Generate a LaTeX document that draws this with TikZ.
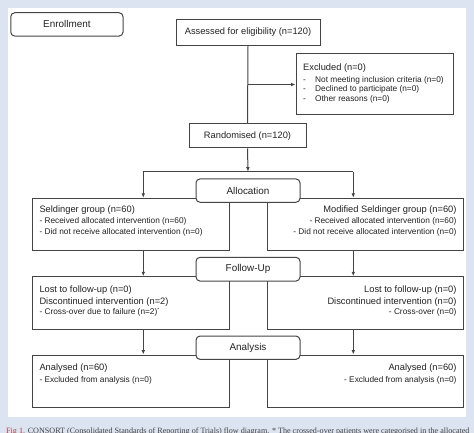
\documentclass[tikz,border=0pt]{standalone}
\usepackage{fontspec}
\setmainfont{Liberation Sans}
\newfontfamily\capfont{Liberation Serif}
\usetikzlibrary{arrows.meta}
\definecolor{bgblue}{HTML}{DCE3F1}
\definecolor{linegray}{HTML}{444444}
\definecolor{txtgray}{HTML}{222222}
\definecolor{figred}{HTML}{A84444}
\definecolor{capgray}{HTML}{444444}
\tikzset{
  box/.style={draw=linegray, line width=1pt, fill=white, inner sep=0pt},
  rbox/.style={box, rounded corners=4pt},
  hd/.style={font=\fontsize{9.3}{11}\selectfont, text=txtgray, inner sep=0pt},
  it/.style={font=\fontsize{8.3}{10}\selectfont, text=txtgray, inner sep=0pt},
  lab/.style={font=\fontsize{9.9}{12}\selectfont, text=txtgray},
  conn/.style={draw=linegray, line width=1pt},
  arr/.style={conn, -{Latex[length=4.5pt,width=3.6pt]}},
}
\begin{document}
\begin{tikzpicture}[x=1pt,y=-1pt]
\path[clip] (0,0) rectangle (474,433);
\fill[bgblue] (0,0) rectangle (474,433);
\fill[white] (8.3,8.3) rectangle (465.7,416.7);

% boxes
\node[rbox, minimum width=112.3pt, minimum height=23.3pt, lab] (enroll) at (66.9,24.4) {Enrollment};
\node[box, minimum width=144pt, minimum height=26.7pt, hd] (assess) at (248,32.4) {Assessed for eligibility (n=120)};
\node[box, minimum width=157pt, minimum height=61pt] (excl) at (374.5,84.5) {};
\node[box, minimum width=117pt, minimum height=24pt, hd] (rand) at (247.5,136) {Randomised (n=120)};

\node[box, minimum width=197pt, minimum height=51.7pt] (lg1) at (130.8,224.2) {};
\node[box, minimum width=196pt, minimum height=51.7pt] (rg1) at (365.3,224.2) {};
\node[box, minimum width=197pt, minimum height=52.3pt] (lg2) at (130.8,302.9) {};
\node[box, minimum width=196pt, minimum height=52.3pt] (rg2) at (365.3,302.9) {};
\node[box, minimum width=197pt, minimum height=52.7pt] (lg3) at (130.8,381.4) {};
\node[box, minimum width=196pt, minimum height=52.7pt] (rg3) at (365.3,381.4) {};

\node[rbox, minimum width=104pt, minimum height=23.3pt, lab] (alloc) at (248,190.6) {Allocation};
\node[rbox, minimum width=104pt, minimum height=23.7pt, lab] (follow) at (248,269.2) {Follow-Up};
\node[rbox, minimum width=104pt, minimum height=23.3pt, lab] (anal) at (248,347.7) {Analysis};

% excluded text
\node[hd, anchor=west] (ex0) at (303,68) {Excluded (n=0)};
\node[it, anchor=west] (ex1) at (303,80) {\makebox[12pt][l]{-}Not meeting inclusion criteria (n=0)};
\node[it, anchor=west] (ex2) at (303,89.7) {\makebox[12pt][l]{-}Declined to participate (n=0)};
\node[it, anchor=west] (ex3) at (303,99.3) {\makebox[12pt][l]{-}Other reasons (n=0)};

% allocation texts
\node[hd, anchor=west] (l1a) at (39.3,210) {Seldinger group (n=60)};
\node[it, anchor=west] (l1b) at (39.3,221) {- Received allocated intervention (n=60)};
\node[it, anchor=west] (l1c) at (39.3,232.7) {- Did not receive allocated intervention (n=0)};
\node[hd, anchor=east] (r1a) at (456.7,210) {Modified Seldinger group (n=60)};
\node[it, anchor=east] (r1b) at (456.7,221) {- Received allocated intervention (n=60)};
\node[it, anchor=east] (r1c) at (456.7,232.7) {- Did not receive allocated intervention (n=0)};

% follow-up texts
\node[hd, anchor=west] (l2a) at (39.3,290) {Lost to follow-up (n=0)};
\node[hd, anchor=west] (l2b) at (39.3,301.7) {Discontinued intervention (n=2)};
\node[it, anchor=west] (l2c) at (39.3,312.3) {- Cross-over due to failure (n=2)\raisebox{3pt}{\fontsize{5}{5}\selectfont *}};
\node[hd, anchor=east] (r2a) at (456.7,290) {Lost to follow-up (n=0)};
\node[hd, anchor=east] (r2b) at (456.7,301.7) {Discontinued intervention (n=0)};
\node[it, anchor=east] (r2c) at (456.7,312.3) {- Cross-over (n=0)};

% analysis texts
\node[hd, anchor=west] (l3a) at (39.3,368.3) {Analysed (n=60)};
\node[it, anchor=west] (l3b) at (39.3,380) {- Excluded from analysis (n=0)};
\node[hd, anchor=east] (r3a) at (456.7,368.3) {Analysed (n=60)};
\node[it, anchor=east] (r3b) at (456.7,380) {- Excluded from analysis (n=0)};

% connectors
\coordinate (exjoin) at (assess.south |- excl.west);
\draw[conn] (assess.south) -- (rand.north);
\draw[arr] (exjoin) -- (excl.west);
\coordinate (split) at (248,171.7);
\coordinate (splitL) at (143.3,171.7);
\coordinate (splitR) at (353.3,171.7);
\draw[arr] (rand.south) -- (split);
\draw[conn] (splitL) -- (splitR);
\draw[arr] (splitL) -- (splitL |- lg1.north);
\draw[arr] (splitR) -- (splitR |- rg1.north);
\draw[arr] (lg1.south -| splitL) -- (lg2.north -| splitL);
\draw[arr] (rg1.south -| splitR) -- (rg2.north -| splitR);
\draw[arr] (lg2.south -| splitL) -- (lg3.north -| splitL);
\draw[arr] (rg2.south -| splitR) -- (rg3.north -| splitR);

% caption (cut off at bottom, as in the reference)
\node[anchor=base west, inner sep=0pt, font=\capfont\fontsize{8.1}{9}\selectfont, text=capgray] (cap) at (6,433.3)
  {\textcolor{figred}{Fig 1.} CONSORT (Consolidated Standards of Reporting of Trials) flow diagram. * The crossed-over patients were categorised in the allocated};
\end{tikzpicture}
\end{document}
